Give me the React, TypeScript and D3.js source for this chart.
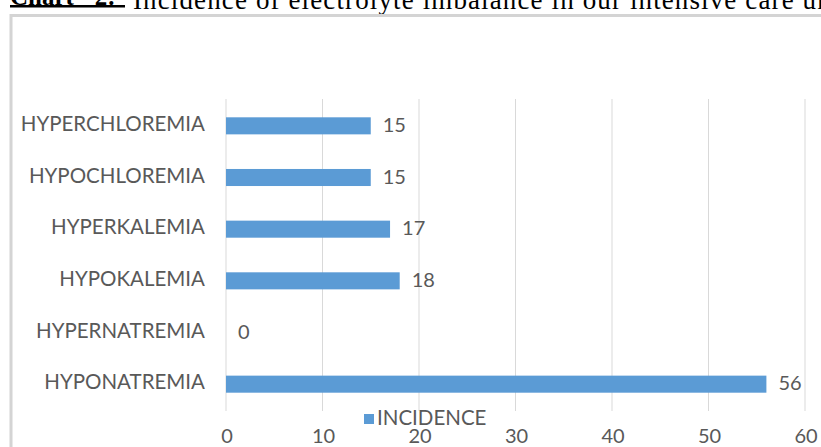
import React from "react";
import * as d3 from "d3";

const categories = [
  "HYPERCHLOREMIA",
  "HYPOCHLOREMIA",
  "HYPERKALEMIA",
  "HYPOKALEMIA",
  "HYPERNATREMIA",
  "HYPONATREMIA",
];
const incidence = [15, 15, 17, 18, 0, 56];
const xTicks = [0, 10, 20, 30, 40, 50, 60];
const seriesName = "INCIDENCE";
const titleBold = "Chart - 2:";
const titleRest = "Incidence of electrolyte imbalance in our intensive care unit";

const W = 821;
const H = 447;
const BAR = "#5b9bd5";
const TEXT = "#595959";
const GRID = "#d9d9d9";
const FONT = "Lato, 'Open Sans', sans-serif";
const SERIF = "'Liberation Serif', 'Times New Roman', serif";

export default function App() {
  const x = d3.scaleLinear().domain([0, 60]).range([226, 805]);
  const y = d3
    .scaleBand<string>()
    .domain(categories)
    .range([100, 410])
    .paddingInner(0.67)
    .paddingOuter(0.335);

  const gridTop = 99;
  const gridBottom = 411;

  return (
    <svg
      width={W}
      height={H}
      style={{ position: "fixed", left: 0, top: 0, background: "#fff" }}
    >
      <rect x={0} y={0} width={W} height={H} fill="#fff" />
      {/* title, cut off at top */}
      <text x={10} y={5} fontFamily={SERIF} fontSize={25} fontWeight="bold" fill="#000">
        {titleBold}
      </text>
      <rect x={10} y={5} width={115} height={2.5} fill="#000" />
      <text
        x={133}
        y={9}
        fontFamily={SERIF}
        fontSize={27}
        fill="#000"
        textLength={715}
        lengthAdjust="spacing"
      >
        {titleRest}
      </text>

      {/* chart frame */}
      <rect
        x={11}
        y={15.5}
        width={W + 20}
        height={H + 20}
        fill="#fff"
        stroke="#d4d4d4"
        strokeWidth={3}
      />

      {/* gridlines */}
      {xTicks.map((t) => (
        <line
          key={"g" + t}
          x1={x(t)}
          x2={x(t)}
          y1={gridTop}
          y2={gridBottom}
          stroke={GRID}
          strokeWidth={1}
        />
      ))}

      {/* bars */}
      {categories.map((c, i) => (
        <rect
          key={"b" + c}
          x={x(0)}
          y={y(c)}
          width={x(incidence[i]) - x(0)}
          height={y.bandwidth()}
          fill={BAR}
        />
      ))}

      {/* value labels */}
      {categories.map((c, i) => (
        <text
          key={"v" + c}
          x={x(incidence[i]) + 12}
          y={(y(c) as number) + y.bandwidth() / 2 + 1}
          dominantBaseline="middle"
          fontFamily={FONT}
          fontSize={20}
          fill={TEXT}
        >
          {incidence[i]}
        </text>
      ))}

      {/* category labels */}
      {categories.map((c) => (
        <text
          key={"c" + c}
          x={205}
          y={(y(c) as number) + y.bandwidth() / 2}
          textAnchor="end"
          dominantBaseline="middle"
          fontFamily={FONT}
          fontSize={20.5}
          fill={TEXT}
        >
          {c}
        </text>
      ))}

      {/* x tick labels */}
      {xTicks.map((t) => (
        <text
          key={"t" + t}
          x={x(t) + 1}
          y={438}
          textAnchor="middle"
          dominantBaseline="middle"
          fontFamily={FONT}
          fontSize={20}
          fill={TEXT}
        >
          {t}
        </text>
      ))}

      {/* legend */}
      <rect x={364} y={414} width={10} height={10} fill={BAR} />
      <text
        x={377}
        y={419.5}
        dominantBaseline="middle"
        fontFamily={FONT}
        fontSize={20.5}
        fill={TEXT}
      >
        {seriesName}
      </text>
    </svg>
  );
}
